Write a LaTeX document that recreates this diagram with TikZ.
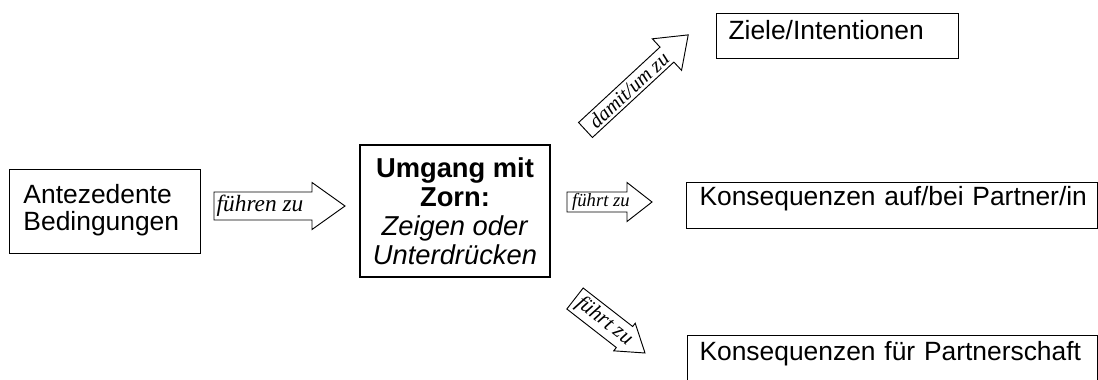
\documentclass[tikz,border=0pt]{standalone}
\usepackage{fontspec}
\setmainfont{Liberation Sans}
\newfontfamily\serifschrift{Liberation Serif}
\usetikzlibrary{positioning}
\newcommand{\blockpfeil}[4]{%
  \draw[pfeil] (0,-#2) -- ({#1-#4},-#2) -- ({#1-#4},-#3) -- (#1,0)
    -- ({#1-#4},#3) -- ({#1-#4},#2) -- (0,#2) -- cycle;}
\newcommand{\hauptfont}{\fontsize{19.8}{20.25}\selectfont}

\begin{document}
\begin{tikzpicture}[x=0.75pt, y=-0.75pt,
    kasten/.style={draw, line width=0.75pt, inner ysep=0pt, align=left,
      anchor=north west, font=\hauptfont},
    pfeil/.style={line width=0.7pt, fill=white},
    pfeiltext/.style={transform shape, inner sep=0pt,
      font=\serifschrift\itshape\fontsize{#1}{#1}\selectfont}]
  \useasboundingbox (0,0) rectangle (1098,379);
  \node[kasten, minimum height=63pt, inner xsep=10.5pt,
    text width=122.25pt] (ante) at (9,169)
    {Antezedente\\Bedingungen\rule[-6pt]{0pt}{6pt}};
  \node[kasten, line width=1.5pt, align=center, anchor=center,
    minimum width=142.5pt, minimum height=99pt,
    font=\fontsize{20.5}{21.75}\selectfont] (zorn) at (455,211)
    {\textbf{Umgang mit}\\\textbf{Zorn:}\\\textit{Zeigen oder}\\\textit{Unterdrücken}};
  \node[kasten, inner xsep=9pt, text width=163.5pt,
    text height=19.5pt, text depth=14.25pt] (ziele) at (716,13)
    {Ziele/Intentionen};
  \node[kasten, inner xsep=9.75pt, text width=288.75pt,
    text height=17.25pt, text depth=17.25pt] (partner) at (686,182)
    {\mbox{Konsequenzen auf/bei Partner/in}};
  \node[kasten, inner xsep=9pt, text width=289.5pt,
    text height=18.75pt, text depth=45pt] (schaft) at (687,335)
    {\mbox{Konsequenzen für Partnerschaft}};

  \begin{scope}[shift={(214,206)}]
    \blockpfeil{131}{14}{23.5}{33}
    \node[pfeiltext=17.5] (fuehren) at (46,0) {führen zu};
  \end{scope}
  \begin{scope}[shift={(567,202)}]
    \blockpfeil{85}{10}{19.5}{25}
    \node[pfeiltext=14] (fuehrt) at (34,0) {führt zu};
  \end{scope}
  \begin{scope}[shift={(585.5,130)}, rotate=42.8]
    \blockpfeil{140}{10.2}{21.5}{29}
    \node[pfeiltext=15.4] (damit) at (59,0) {damit/um zu};
  \end{scope}
  \begin{scope}[shift={(575,298.5)}, rotate=-37.9]
    \blockpfeil{88.7}{13.3}{17.5}{26}
    \node[pfeiltext=16] (fuehrtunten) at (37,0) {führt zu};
  \end{scope}
\end{tikzpicture}
\end{document}
